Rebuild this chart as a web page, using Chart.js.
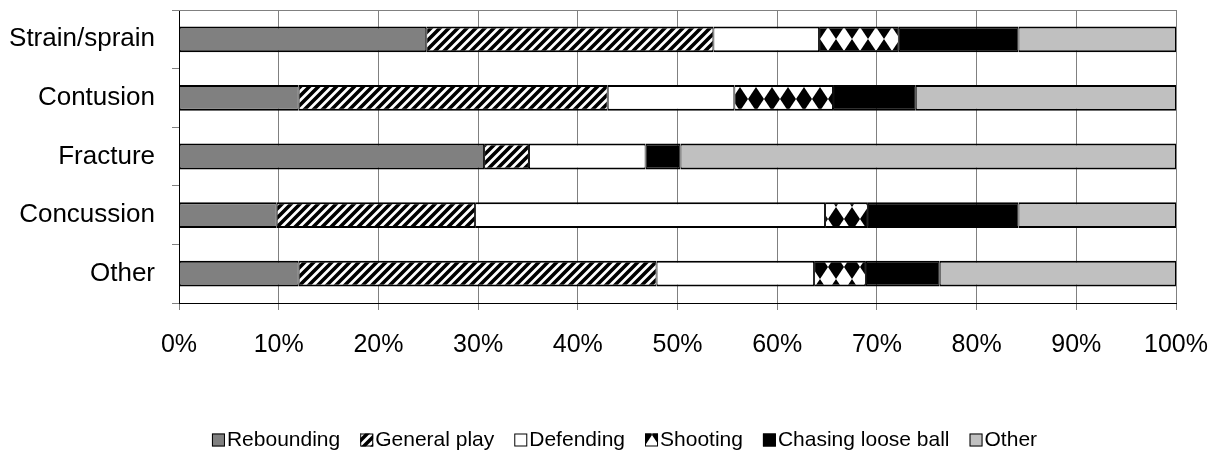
<!DOCTYPE html>
<html>
<head>
<meta charset="utf-8">
<script src="https://cdn.jsdelivr.net/npm/chart.js@4.4.1/dist/chart.umd.min.js"></script>
<style>
  html, body { margin: 0; padding: 0; background: #fff; }
</style>
</head>
<body>
<canvas id="injuryChart" width="1217" height="452"></canvas>
<script>
// injury type vs. activity, stacked to 100%
const injuryTypes = ['Strain/sprain', 'Contusion', 'Fracture', 'Concussion', 'Other'];

const rebounding       = [24.8, 12.0, 30.6,  9.8, 12.0];
const generalPlay      = [28.8, 31.0,  4.5, 19.9, 35.9];
const defending        = [10.6, 12.7, 11.7, 35.1, 15.8];
const shooting         = [ 8.0,  9.9,  0.0,  4.3,  5.2];
const chasingLooseBall = [12.0,  8.3,  3.5, 15.1,  7.4];
const otherActivity    = [15.8, 26.1, 49.7, 15.8, 23.7];

const percentTicks = [0, 10, 20, 30, 40, 50, 60, 70, 80, 90, 100];

const FONT = '"Liberation Sans", Arial, Helvetica, sans-serif';

/* ---------------------------
   Fill patterns
   --------------------------- */

function makeHatch() {
  const size = 9;
  const c = document.createElement('canvas');
  c.width = size; c.height = size;
  const g = c.getContext('2d');
  g.fillStyle = '#fff';
  g.fillRect(0, 0, size, size);
  g.strokeStyle = '#000';
  g.lineWidth = 3.6;
  g.beginPath();
  g.moveTo(0, size); g.lineTo(size, 0);
  g.moveTo(-2, 2); g.lineTo(2, -2);
  g.moveTo(size - 2, size + 2); g.lineTo(size + 2, size - 2);
  g.stroke();
  return g.createPattern(c, 'repeat');
}

// white diamonds on black, canvas-aligned like the old office fills
function makeDiamonds() {
  const w = 16, h = 24;
  const c = document.createElement('canvas');
  c.width = w; c.height = h;
  const g = c.getContext('2d');
  g.fillStyle = '#000';
  g.fillRect(0, 0, w, h);
  g.fillStyle = '#fff';
  g.beginPath();
  g.moveTo(w / 2, 0);
  g.lineTo(w, h / 2);
  g.lineTo(w / 2, h);
  g.lineTo(0, h / 2);
  g.closePath();
  g.fill();
  const p = g.createPattern(c, 'repeat');
  if (p.setTransform) p.setTransform(new DOMMatrix().translate(4, 3));
  return p;
}

/* ---------------------------
   Plugins
   --------------------------- */

// gray top/right frame of the plot area
const plotFrame = {
  id: 'plotFrame',
  beforeDatasetsDraw(chart) {
    const { ctx, chartArea: a } = chart;
    ctx.save();
    ctx.strokeStyle = '#808080';
    ctx.lineWidth = 1;
    ctx.beginPath();
    ctx.moveTo(a.left, a.top + 0.5);
    ctx.lineTo(a.right + 0.5, a.top + 0.5);
    ctx.lineTo(a.right + 0.5, a.bottom);
    ctx.stroke();
    ctx.restore();
  }
};

// compact legend: small box, tight gap to the text
const bottomLegend = {
  id: 'bottomLegend',
  afterDraw(chart) {
    const ctx = chart.ctx;
    const box = 13, gap = 2, itemGap = 20;
    ctx.save();
    ctx.font = '21px ' + FONT;
    ctx.textBaseline = 'middle';
    const items = chart.data.datasets.map(ds => ({
      ds, w: box + gap + ctx.measureText(ds.label).width
    }));
    const total = items.reduce((s, it) => s + it.w, 0) + itemGap * (items.length - 1);
    let x = 624.5 - total / 2;
    const y = 440;
    items.forEach(it => {
      ctx.fillStyle = it.ds.backgroundColor;
      ctx.fillRect(x, y - box / 2, box, box);
      ctx.strokeStyle = '#000';
      ctx.lineWidth = 1;
      ctx.strokeRect(x + 0.5, y - box / 2 + 0.5, box - 1, box - 1);
      ctx.fillStyle = '#000';
      ctx.fillText(it.ds.label, x + box + gap, y);
      x += it.w + itemGap;
    });
    ctx.restore();
  }
};

/* ---------------------------
   Chart
   --------------------------- */

Chart.defaults.font.family = FONT;
Chart.defaults.font.size = 25;
Chart.defaults.color = '#000';

const segBorder = { top: 2, bottom: 2, left: 1, right: 1 };

function series(label, data, fill) {
  return {
    label, data,
    backgroundColor: fill,
    borderColor: '#000',
    borderWidth: segBorder,
    borderSkipped: false,
    barPercentage: 0.44,
    categoryPercentage: 1.0
  };
}

new Chart(document.getElementById('injuryChart'), {
  type: 'bar',
  data: {
    labels: injuryTypes,
    datasets: [
      series('Rebounding', rebounding, '#808080'),
      series('General play', generalPlay, makeHatch()),
      series('Defending', defending, '#ffffff'),
      series('Shooting', shooting, makeDiamonds()),
      series('Chasing loose ball', chasingLooseBall, '#000000'),
      series('Other', otherActivity, '#c0c0c0')
    ]
  },
  options: {
    indexAxis: 'y',
    responsive: false,
    animation: false,
    layout: { padding: { top: 10, right: 41, left: 0, bottom: 0 } },
    plugins: {
      legend: { display: false },
      tooltip: { enabled: false }
    },
    scales: {
      x: {
        stacked: true,
        min: 0,
        max: 100,
        afterBuildTicks: s => { s.ticks = percentTicks.map(v => ({ value: v })); },
        afterFit: s => { s.height = 149; s.paddingLeft = 0; s.paddingRight = 0; },
        ticks: { padding: 20, maxRotation: 0, autoSkip: false, callback: v => v + '%' },
        grid: { color: '#808080', lineWidth: 1, tickLength: 7 },
        border: { color: '#000', width: 1 }
      },
      y: {
        stacked: true,
        afterFit: s => { s.width = 179; s.paddingTop = 0; s.paddingBottom = 0; },
        ticks: { padding: 17, font: { size: 26 } },
        grid: { drawOnChartArea: false, tickLength: 7, color: '#808080', offset: true },
        border: { color: '#000', width: 1 }
      }
    }
  },
  plugins: [plotFrame, bottomLegend]
});
</script>
</body>
</html>
